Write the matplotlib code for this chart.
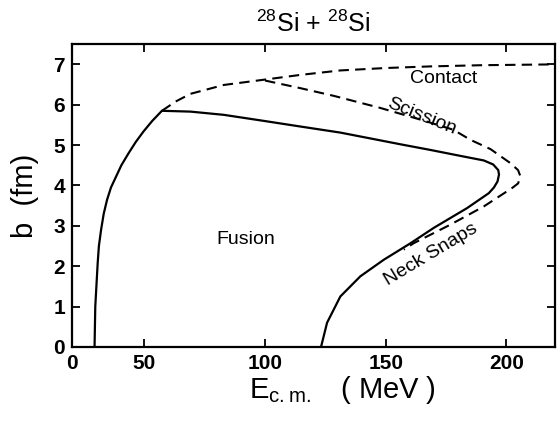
import matplotlib.pyplot as plt
from matplotlib import rcParams

rcParams['font.family'] = ['Liberation Sans', 'DejaVu Sans']
rcParams['mathtext.fontset'] = 'custom'
rcParams['mathtext.rm'] = 'Liberation Sans'

# fusion boundary (solid): left branch, top, nose, lower branch
fus_E = [29.4, 29.7, 30.7, 31.2, 32.1, 33.2, 34.6, 36.2, 38.0, 40.5, 43.5,
         46.5, 49.7, 53.3, 57.3, 69.1, 82.9, 99.5, 114.7, 131.2, 156.1,
         168.5, 182.0, 190.6, 194.5, 196.6, 196.9, 196.3, 194.8, 192.7,
         183.7, 169.9, 160.3, 149.2, 139.5, 131.2, 125.7, 123.2]
fus_b = [0.0, 1.0, 2.08, 2.5, 2.9, 3.3, 3.65, 3.95, 4.18, 4.5, 4.8,
         5.08, 5.34, 5.6, 5.85, 5.83, 5.75, 5.6, 5.46, 5.31, 5.02,
         4.88, 4.72, 4.62, 4.52, 4.38, 4.27, 4.1, 3.95, 3.81,
         3.44, 2.95, 2.57, 2.16, 1.75, 1.25, 0.6, 0.0]

# contact (dashed)
con_E = [57.3, 63.0, 69.1, 82.9, 99.5, 114.7, 131.2, 150.0, 168.5, 190.0, 220.0]
con_b = [5.85, 6.08, 6.27, 6.49, 6.62, 6.74, 6.85, 6.91, 6.95, 6.98, 7.0]

# scission / neck snaps (dashed)
sci_E = [100.0, 114.7, 128.5, 147.8, 165.0, 178.0, 185.1, 193.4, 201.7,
         204.8, 205.8, 204.8, 202.4, 190.6, 176.8, 161.6, 157.5]
sci_b = [6.6, 6.41, 6.22, 5.92, 5.62, 5.38, 5.13, 4.9, 4.55,
         4.38, 4.22, 4.05, 3.94, 3.48, 3.03, 2.57, 2.41]

xticks = [20, 50, 100, 150, 200]
xticklabels = ['0', '50', '100', '150', '200']
yticks = [0, 1, 2, 3, 4, 5, 6, 7]

fig = plt.figure(figsize=(5.57, 4.21), dpi=100)
ax = fig.add_axes([0.129, 0.176, 0.867, 0.719])

ax.plot(fus_E, fus_b, color='black', lw=1.6)
ax.plot(con_E, con_b, color='black', lw=1.5, dashes=(5, 3))
ax.plot(sci_E, sci_b, color='black', lw=1.5, dashes=(5, 3))

txt = dict(fontsize=14, ha='center', va='center')
ax.text(92, 2.66, 'Fusion', **txt)
ax.text(174, 6.66, 'Contact', **txt)
ax.text(165, 5.72, 'Scission', rotation=-22, **txt)
ax.text(168.5, 2.28, 'Neck Snaps', rotation=31, **txt)

ax.set_xlim(20, 220)
ax.set_ylim(0, 7.5)
ax.set_xticks(xticks, xticklabels)
ax.set_yticks(yticks)
ax.tick_params(direction='in', top=True, right=True, length=6, width=1.3,
               labelsize=15, pad=5)
for lab in ax.get_xticklabels() + ax.get_yticklabels():
    lab.set_fontweight('bold')
for s in ax.spines.values():
    s.set_linewidth(1.6)

ax.set_title(r'$^{28}$Si + $^{28}$Si', fontsize=18, pad=9)
ax.set_xlabel(r'E$_{\mathrm{c.m.}}$   ( MeV )', fontsize=21, labelpad=4)
ax.xaxis.set_label_coords(0.56, -0.09)
ax.set_ylabel('b  (fm)', fontsize=21, labelpad=10)

fig.savefig('out.png', dpi=100)
